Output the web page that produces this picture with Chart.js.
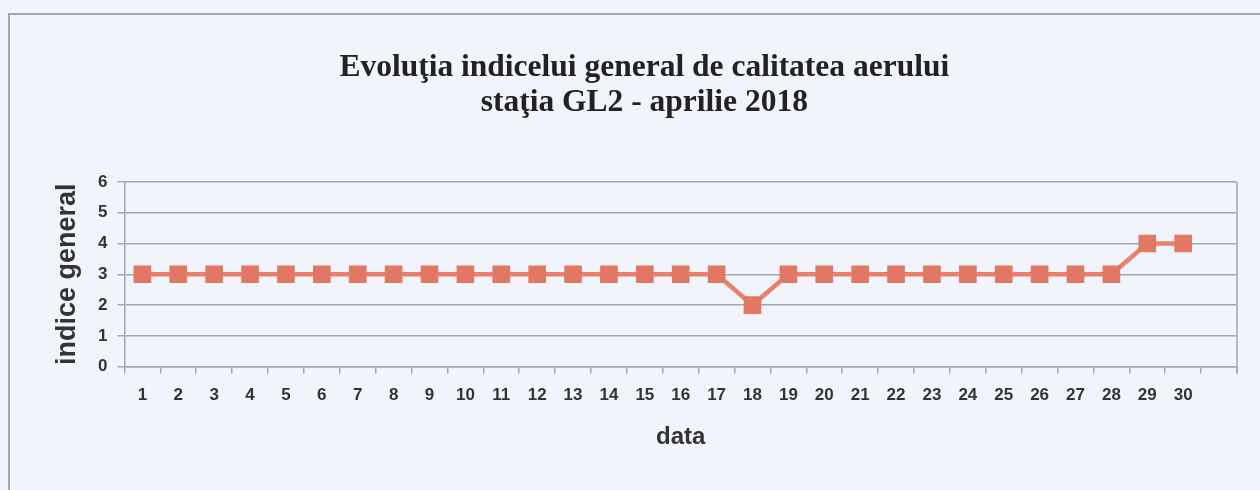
<!DOCTYPE html>
<html lang="ro">
<head>
    <meta charset="UTF-8">
    <title>Indice general calitatea aerului GL2</title>
    <script src="https://cdn.jsdelivr.net/npm/chart.js"></script>
    <style>
        html, body { margin: 0; padding: 0; background: #f1f5fb; }
        .frame {
            position: absolute; left: 8px; top: 13px; width: 1300px; height: 520px;
            border-top: 2px solid #a3a7ac; border-left: 2px solid #a3a7ac;
        }
        .wrap { position: absolute; left: 0; top: 0; width: 1260px; height: 490px; }
    </style>
</head>
<body>
    <div class="frame"></div>
    <div class="wrap"><canvas id="aqi-chart" width="1260" height="490"></canvas></div>

    <script>
        // zilele lunii aprilie 2018 (ultima categorie ramane goala, ca in original)
        const zile = ['1', '2', '3', '4', '5', '6', '7', '8', '9', '10',
                      '11', '12', '13', '14', '15', '16', '17', '18', '19', '20',
                      '21', '22', '23', '24', '25', '26', '27', '28', '29', '30', ''];
        // indicele general pe zile
        const indice = [3, 3, 3, 3, 3, 3, 3, 3, 3, 3,
                        3, 3, 3, 3, 3, 3, 3, 2, 3, 3,
                        3, 3, 3, 3, 3, 3, 3, 3, 4, 4, null];
        const titlu = ['Evoluţia indicelui general de calitatea aerului', 'staţia GL2 - aprilie 2018'];

        const gridColor = '#a4a8ad';
        const textColor = '#333333';

        // linia din dreapta a zonei de grafic
        const bordura = {
            id: 'bordura',
            beforeDatasetsDraw(chart) {
                const { ctx, chartArea } = chart;
                ctx.save();
                ctx.strokeStyle = gridColor;
                ctx.lineWidth = 1.5;
                ctx.beginPath();
                ctx.moveTo(chartArea.right, chartArea.top);
                ctx.lineTo(chartArea.right, chartArea.bottom + 7);
                ctx.stroke();
                ctx.restore();
            }
        };

        const ctx = document.getElementById('aqi-chart').getContext('2d');
        new Chart(ctx, {
            type: 'line',
            data: {
                labels: zile,
                datasets: [{
                    label: 'indice general',
                    data: indice,
                    borderColor: '#e8806c',
                    backgroundColor: '#e27764',
                    borderWidth: 4.5,
                    pointStyle: 'rect',
                    pointRadius: 12.5,
                    pointHoverRadius: 12.5,
                    pointBorderWidth: 0,
                    tension: 0
                }]
            },
            plugins: [bordura],
            options: {
                responsive: false,
                animation: false,
                layout: { padding: { left: 51.6, right: 23, top: 0, bottom: 38.6 } },
                plugins: {
                    legend: { display: false },
                    tooltip: { enabled: false },
                    title: {
                        display: true,
                        text: titlu,
                        color: '#222222',
                        font: { family: '"Liberation Serif", "Times New Roman", serif', size: 31.5, weight: 'bold', lineHeight: 1.11 },
                        padding: { top: 50, bottom: 62 }
                    }
                },
                scales: {
                    x: {
                        offset: true,
                        grid: { display: true, drawOnChartArea: false, offset: true, tickLength: 7, color: gridColor, lineWidth: 1.5 },
                        border: { color: gridColor, width: 1.5 },
                        ticks: {
                            color: textColor,
                            padding: 12,
                            maxRotation: 0,
                            autoSkip: false,
                            font: { family: '"Liberation Sans", Arial, sans-serif', size: 17, weight: 'bold' }
                        },
                        title: {
                            display: true,
                            text: 'data',
                            color: textColor,
                            font: { family: '"Liberation Sans", Arial, sans-serif', size: 24, weight: 'bold' },
                            padding: { top: 4.6, bottom: 0 }
                        }
                    },
                    y: {
                        min: 0,
                        max: 6,
                        grid: { color: gridColor, lineWidth: 1.5, tickLength: 7 },
                        border: { color: gridColor, width: 1.5 },
                        ticks: {
                            stepSize: 1,
                            color: textColor,
                            padding: 10,
                            font: { family: '"Liberation Sans", Arial, sans-serif', size: 17, weight: 'bold' }
                        },
                        title: {
                            display: true,
                            text: 'indice general',
                            color: textColor,
                            font: { family: '"Liberation Sans", Arial, sans-serif', size: 27, weight: 'bold' },
                            padding: { top: 0, bottom: 4 }
                        }
                    }
                }
            }
        });
    </script>
</body>
</html>
